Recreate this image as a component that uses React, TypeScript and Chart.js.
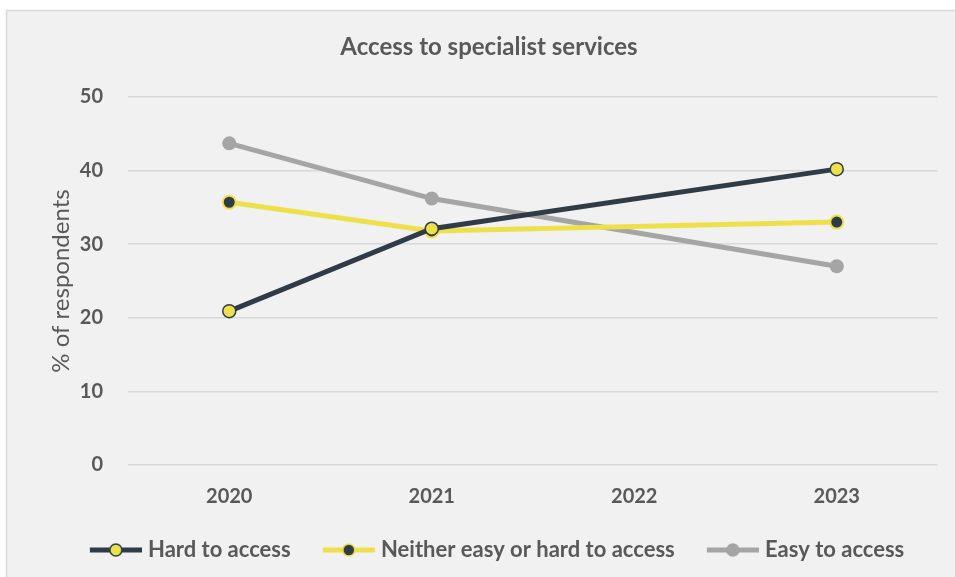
import React, { useEffect, useRef } from "react";
import { Chart, registerables } from "chart.js";

Chart.register(...registerables);

const categories = ["2020", "2021", "2022", "2023"];
const hardToAccess = [20.9, 32.1, null, 40.2];
const neitherEasyOrHard = [35.7, 31.8, null, 33.0];
const easyToAccess = [43.7, 36.2, null, 27.0];
const seriesNames = ["Hard to access", "Neither easy or hard to access", "Easy to access"];
const yTicks = [0, 10, 20, 30, 40, 50];

const DARK = "#2f3c47";
const YELLOW = "#eee04a";
const GREY = "#a5a5a5";
const TEXT = "#595959";
const FONT = "Lato";
const LEGEND_BOX = 63.25;

function legendIcon(line: string, fill: string, stroke: string) {
  const W = LEGEND_BOX + 10;
  const c = document.createElement("canvas");
  c.width = Math.round(W);
  c.height = 18;
  const ctx = c.getContext("2d")!;
  const x0 = c.width - 52;
  ctx.strokeStyle = line;
  ctx.lineWidth = 5;
  ctx.beginPath();
  ctx.moveTo(x0, 9);
  ctx.lineTo(x0 + 52, 9);
  ctx.stroke();
  ctx.beginPath();
  ctx.arc(x0 + 26, 9, 6, 0, Math.PI * 2);
  ctx.fillStyle = fill;
  ctx.fill();
  ctx.lineWidth = 1.5;
  ctx.strokeStyle = stroke;
  ctx.stroke();
  return c;
}

const bgPlugin = {
  id: "bgBox",
  beforeDraw(chart: any) {
    const { ctx, width, height } = chart;
    ctx.save();
    ctx.fillStyle = "#ffffff";
    ctx.fillRect(0, 0, width, height);
    ctx.fillStyle = "#f1f1f1";
    ctx.fillRect(6, 10, width - 6, height - 10);
    ctx.strokeStyle = "#d9d9d9";
    ctx.lineWidth = 1.5;
    ctx.beginPath();
    ctx.moveTo(6.5, height);
    ctx.lineTo(6.5, 10.5);
    ctx.lineTo(width, 10.5);
    ctx.stroke();
    ctx.restore();
  },
};

export default function App() {
  const ref = useRef<HTMLCanvasElement>(null);
  useEffect(() => {
    document.body.style.margin = "0";
    const icons = [
      legendIcon(DARK, YELLOW, DARK),
      legendIcon(YELLOW, DARK, YELLOW),
      legendIcon(GREY, GREY, GREY),
    ];
    const chart = new Chart(ref.current!, {
      type: "line",
      data: {
        labels: categories,
        datasets: [
          {
            label: seriesNames[0],
            data: hardToAccess,
            borderColor: DARK,
            backgroundColor: DARK,
            borderWidth: 5,
            pointRadius: 6.5,
            pointBackgroundColor: YELLOW,
            pointBorderColor: DARK,
            pointBorderWidth: 1.5,
            spanGaps: true,
            order: 1,
          },
          {
            label: seriesNames[1],
            data: neitherEasyOrHard,
            borderColor: YELLOW,
            backgroundColor: YELLOW,
            borderWidth: 5,
            pointRadius: 6.5,
            pointBackgroundColor: DARK,
            pointBorderColor: YELLOW,
            pointBorderWidth: 2,
            spanGaps: true,
            order: 2,
          },
          {
            label: seriesNames[2],
            data: easyToAccess,
            borderColor: GREY,
            backgroundColor: GREY,
            borderWidth: 5,
            pointRadius: 7,
            pointBackgroundColor: GREY,
            pointBorderColor: GREY,
            pointBorderWidth: 0,
            spanGaps: true,
            order: 3,
          },
        ],
      },
      options: {
        responsive: false,
        animation: false,
        layout: { padding: { top: 10, left: 40, right: 17, bottom: 6 } },
        plugins: {
          title: {
            display: true,
            text: "Access to specialist services",
            color: TEXT,
            font: { family: FONT, size: 24, weight: "bold" },
            padding: { top: 22.6, bottom: 35.6 },
          },
          legend: {
            position: "bottom",
            labels: {
              usePointStyle: true,
              pointStyleWidth: LEGEND_BOX,
              padding: 16,
              color: TEXT,
              font: { family: FONT, size: 22, weight: "bold" },
              generateLabels: () =>
                seriesNames.map((name, i) => ({
                  text: name,
                  pointStyle: icons[i] as any,
                  fillStyle: "transparent",
                  strokeStyle: "transparent",
                  lineWidth: 0,
                  fontColor: TEXT,
                  hidden: false,
                  datasetIndex: i,
                })),
            },
          },
          tooltip: { enabled: false },
        },
        scales: {
          x: {
            offset: true,
            grid: { display: false, drawTicks: false, offset: true },
            border: { display: false },
            ticks: {
              color: TEXT,
              padding: 19.5,
              font: { family: FONT, size: 20, weight: "bold" },
            },
            afterFit: (s: any) => {
              s.height = 58;
            },
          },
          y: {
            min: 0,
            max: 50,
            afterBuildTicks: (s: any) => {
              s.ticks = yTicks.map((v) => ({ value: v }));
            },
            grid: { color: "#d9d9d9", lineWidth: 1.5, drawTicks: false },
            border: { display: false },
            ticks: {
              color: TEXT,
              padding: 25,
              font: { family: FONT, size: 20, weight: "bold" },
            },
            title: {
              display: true,
              text: "% of respondents",
              color: TEXT,
              font: { family: FONT, size: 24, weight: "normal" },
              padding: { top: 6.6, bottom: 0 },
            },
            afterFit: (s: any) => {
              s.width = 88;
            },
          },
        },
      },
      plugins: [bgPlugin],
    });
    return () => chart.destroy();
  }, []);
  return <canvas ref={ref} width={955} height={577} />;
}
